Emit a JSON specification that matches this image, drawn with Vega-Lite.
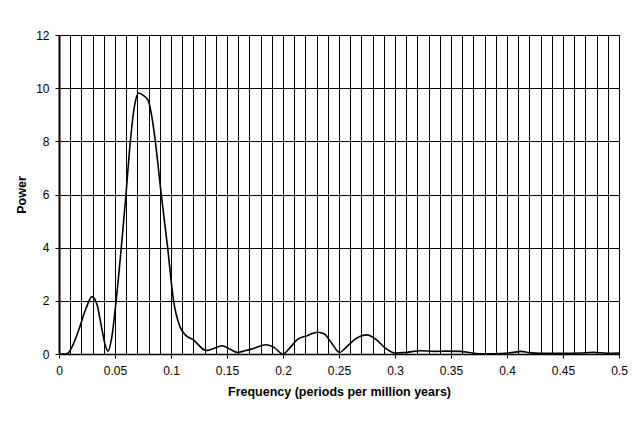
{
  "$schema": "https://vega.github.io/schema/vega-lite/v6.json",
  "width": 560,
  "height": 319,
  "autosize": {"type": "none"},
  "padding": {"left": 59, "top": 35, "right": 15, "bottom": 67},
  "background": "white",
  "config": {
    "view": {"stroke": "#000", "strokeWidth": 1},
    "font": "Liberation Sans",
    "axis": {
      "labelFont": "Liberation Sans",
      "titleFont": "Liberation Sans",
      "labelColor": "#000",
      "titleColor": "#000",
      "labelFontSize": 12,
      "titleFontSize": 12.5,
      "titleFontWeight": "bold",
      "domainColor": "#000",
      "tickColor": "#000",
      "gridColor": "#000",
      "gridOpacity": 1,
      "gridWidth": 1
    }
  },
  "data": {
    "values": [
      {"f": 0, "p": 0},
      {"f": 0.005, "p": 0},
      {"f": 0.008, "p": 0.03},
      {"f": 0.012, "p": 0.3},
      {"f": 0.018, "p": 0.95},
      {"f": 0.024, "p": 1.7},
      {"f": 0.0295, "p": 2.16},
      {"f": 0.034, "p": 1.85},
      {"f": 0.038, "p": 1.0},
      {"f": 0.0415, "p": 0.3},
      {"f": 0.0437, "p": 0.11},
      {"f": 0.047, "p": 0.6},
      {"f": 0.051, "p": 2.0},
      {"f": 0.0556, "p": 4.0},
      {"f": 0.0598, "p": 6.0},
      {"f": 0.0637, "p": 8.0},
      {"f": 0.0675, "p": 9.35},
      {"f": 0.0711, "p": 9.82},
      {"f": 0.0755, "p": 9.72},
      {"f": 0.0795, "p": 9.55},
      {"f": 0.083, "p": 8.9},
      {"f": 0.086, "p": 8.0},
      {"f": 0.0913, "p": 6.0},
      {"f": 0.097, "p": 4.0},
      {"f": 0.1023, "p": 2.0},
      {"f": 0.108, "p": 1.03},
      {"f": 0.1128, "p": 0.72},
      {"f": 0.12, "p": 0.53},
      {"f": 0.1315, "p": 0.13},
      {"f": 0.1375, "p": 0.2},
      {"f": 0.1455, "p": 0.31},
      {"f": 0.152, "p": 0.2},
      {"f": 0.159, "p": 0.06},
      {"f": 0.166, "p": 0.12},
      {"f": 0.173, "p": 0.2},
      {"f": 0.185, "p": 0.35},
      {"f": 0.192, "p": 0.25},
      {"f": 0.2, "p": 0.0},
      {"f": 0.2065, "p": 0.25},
      {"f": 0.2125, "p": 0.53},
      {"f": 0.222, "p": 0.7},
      {"f": 0.231, "p": 0.82},
      {"f": 0.237, "p": 0.75},
      {"f": 0.2435, "p": 0.4},
      {"f": 0.2505, "p": 0.06},
      {"f": 0.2575, "p": 0.3},
      {"f": 0.265, "p": 0.58},
      {"f": 0.275, "p": 0.72},
      {"f": 0.283, "p": 0.55},
      {"f": 0.292, "p": 0.2},
      {"f": 0.3, "p": 0.04},
      {"f": 0.31, "p": 0.06},
      {"f": 0.3226, "p": 0.12},
      {"f": 0.335, "p": 0.1},
      {"f": 0.3464, "p": 0.11},
      {"f": 0.358, "p": 0.1},
      {"f": 0.37, "p": 0.03},
      {"f": 0.38, "p": 0.01},
      {"f": 0.395, "p": 0.02},
      {"f": 0.409, "p": 0.08},
      {"f": 0.4125, "p": 0.1},
      {"f": 0.42, "p": 0.05},
      {"f": 0.43, "p": 0.03},
      {"f": 0.45, "p": 0.03},
      {"f": 0.465, "p": 0.04},
      {"f": 0.477, "p": 0.06},
      {"f": 0.49, "p": 0.03},
      {"f": 0.5, "p": 0.04}
    ]
  },
  "mark": {"type": "line", "color": "#000", "strokeWidth": 1.6, "interpolate": "monotone", "clip": true},
  "encoding": {
    "x": {
      "field": "f",
      "type": "quantitative",
      "scale": {"domain": [0, 0.5], "nice": false, "zero": false},
      "axis": {
        "title": "Frequency (periods per million years)",
        "values": [0,0.01,0.02,0.03,0.04,0.05,0.06,0.07,0.08,0.09,0.1,0.11,0.12,0.13,0.14,0.15,0.16,0.17,0.18,0.19,0.2,0.21,0.22,0.23,0.24,0.25,0.26,0.27,0.28,0.29,0.3,0.31,0.32,0.33,0.34,0.35,0.36,0.37,0.38,0.39,0.4,0.41,0.42,0.43,0.44,0.45,0.46,0.47,0.48,0.49,0.5],
        "labelExpr": "round(datum.value*100) % 5 == 0 ? datum.label : ''",
        "format": "~g",
        "tickOpacity": {"condition": {"test": "round(datum.value*100) % 5 == 0", "value": 1}, "value": 0},
        "tickSize": 4,
        "labelPadding": 7,
        "titlePadding": 9,
        "labelFlush": false,
        "labelOverlap": false,
        "domainWidth": 1.5
      }
    },
    "y": {
      "field": "p",
      "type": "quantitative",
      "scale": {"domain": [0, 12], "nice": false},
      "axis": {
        "title": "Power",
        "values": [0, 2, 4, 6, 8, 10, 12],
        "tickSize": 4,
        "labelPadding": 6,
        "titlePadding": 7,
        "domainWidth": 2
      }
    }
  }
}
